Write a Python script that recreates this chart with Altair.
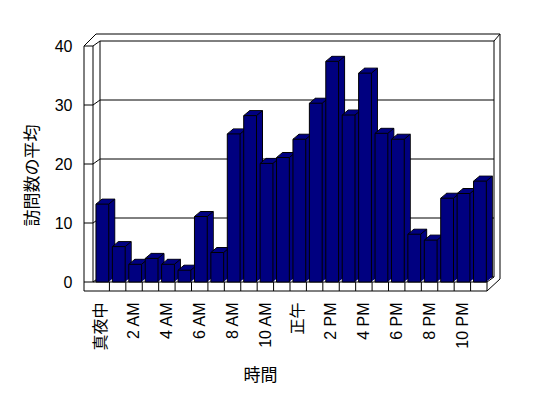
import json
import altair as alt
import pandas as pd

# ---- data ----
hours = list(range(24))
visits = [13.2, 6.0, 3.0, 4.0, 3.0, 2.0, 11.1, 5.0, 25.1, 28.2, 20.1, 21.1,
          24.2, 30.3, 37.4, 28.3, 35.4, 25.2, 24.2, 8.1, 7.1, 14.2, 15.0, 17.1]
tick_hours = [0, 2, 4, 6, 8, 10, 12, 14, 16, 18, 20, 22]
tick_labels = ["真夜中", "2 AM", "4 AM", "6 AM", "8 AM", "10 AM",
               "正午", "2 PM", "4 PM", "6 PM", "8 PM", "10 PM"]
y_ticks = [0, 10, 20, 30, 40]

# ---- geometry / style ----
NAVY = "#000080"
FONT = "Noto Sans CJK JP"
LFONT = "Liberation Sans, Noto Sans CJK JP"
W, H = 394, 236
NCAT, YMAX = 24, 40
ux = NCAT / W      # data units per pixel (x)
uy = YMAX / H      # data units per pixel (y)
BAR_L, BAR_R = 0.18, 0.96
BDX, BDY = 6, 5            # bar depth in px
DX, DY = 7 * ux, 5 * uy    # box depth
WALL = 9 * ux
FLOOR = 9 * uy
OUT_DX, OUT_DY = 13 * ux, 12 * uy
LBL_POS = 0.48

bars_df = pd.DataFrame({"hour": hours, "value": visits})
base = alt.Chart(bars_df)
xs = alt.Scale(domain=[0, NCAT], nice=False, zero=False)
ys = alt.Scale(domain=[0, YMAX], nice=False)

labels_js = json.dumps(tick_labels, ensure_ascii=False)
XAXIS = alt.Axis(
    values=[h + LBL_POS for h in tick_hours],
    labelExpr=f"{labels_js}[round((datum.value - {LBL_POS}) / 2)]",
    domain=False, ticks=False, grid=False,
    labelAngle=270, labelAlign="right", labelBaseline="middle",
    labelPadding=20, labelFont=LFONT, labelFontSize=16, labelColor="black",
    labelOverlap=False, labelLimit=0,
    title="時間", titleFont=FONT, titleFontSize=17, titleFontWeight="normal",
    titleColor="black", titleX=167, titleY=93, titleAlign="center",
    titleBaseline="middle",
)
YAXIS = alt.Axis(
    values=y_ticks, domain=False, ticks=False, grid=False,
    labelPadding=21, labelFont=LFONT, labelFontSize=16, labelColor="black",
    title="訪問数の平均", titleFont=FONT, titleFontSize=17,
    titleFontWeight="normal", titleColor="black", titleAngle=270,
    titleX=-61, titleY=129, titleAlign="center", titleBaseline="middle",
)

# ---- frame (walls, floor, gridlines) ----
segs = []
def seg(x, y, x2, y2):
    segs.append(dict(x=x, y=y, x2=x2, y2=y2))

seg(DX, DY, DX, YMAX + DY)
seg(DX, YMAX + DY, NCAT + DX, YMAX + DY)
seg(NCAT + DX, DY, NCAT + DX, YMAX + DY)
seg(DX, DY, NCAT + DX, DY)
for v in y_ticks[1:-1]:
    seg(DX, v + DY, NCAT + DX, v + DY)
for v in y_ticks:
    seg(0, v, DX, v + DY)
    seg(-WALL, v, 0, v)
seg(-WALL, -FLOOR, -WALL, YMAX)
seg(0, 0, 0, YMAX)
TOP = YMAX + OUT_DY
RIGHT = NCAT + OUT_DX
seg(-WALL, YMAX, -WALL + 12 * ux, TOP)
seg(-WALL + 12 * ux, TOP, RIGHT, TOP)
seg(NCAT + DX, YMAX + DY, RIGHT, TOP)
seg(RIGHT, TOP, RIGHT, 3 * uy)
seg(0, 0, NCAT, 0)
seg(-WALL, -FLOOR, NCAT, -FLOOR)
seg(NCAT, 0, NCAT, -FLOOR)
for h in range(1, NCAT):
    seg(h, 0, h, -FLOOR)
seg(NCAT, -FLOOR, RIGHT, 3 * uy)
seg(NCAT, 0, NCAT + DX, DY)
frame_df = pd.DataFrame(segs)

frame = alt.Chart(frame_df).mark_rule(color="black", strokeWidth=1).encode(
    x=alt.X("x:Q", scale=xs, axis=XAXIS),
    x2="x2:Q",
    y=alt.Y("y:Q", scale=ys, axis=YAXIS),
    y2="y2:Q",
)

def box(k, stroked):
    sx = k * ux
    sy = k * (BDY / BDX) * uy
    ch = base.transform_calculate(
        bx0=f"datum.hour + {BAR_L} + {sx}",
        bx1=f"datum.hour + {BAR_R} + {sx}",
        by0=f"{sy}",
        by1=f"datum.value + {sy}",
    )
    if stroked:
        m = ch.mark_bar(fill=NAVY, stroke="black", strokeWidth=1)
    else:
        m = ch.mark_bar(fill=NAVY, strokeWidth=0)
    return m.encode(
        x=alt.X("bx0:Q", scale=xs, axis=XAXIS),
        x2="bx1:Q",
        y=alt.Y("by1:Q", scale=ys, axis=YAXIS),
        y2="by0:Q",
    )

back_box = box(BDX, True)
fills = [box(k, False) for k in [0.5, 1, 1.5, 2, 2.5, 3, 3.5, 4, 4.5, 5, 5.5]]

def diag(pos):
    return base.transform_calculate(
        dx0=f"datum.hour + {pos}",
        dx1=f"datum.hour + {pos} + {BDX * ux}",
        dy1=f"datum.value + {BDY * uy}",
    ).mark_rule(color="black", strokeWidth=1).encode(
        x=alt.X("dx0:Q", scale=xs, axis=XAXIS),
        x2="dx1:Q",
        y=alt.Y("value:Q", scale=ys, axis=YAXIS),
        y2="dy1:Q",
    )

front = base.transform_calculate(
    fx0=f"datum.hour + {BAR_L}",
    fx1=f"datum.hour + {BAR_R}",
    zero="0",
).mark_bar(fill=NAVY, stroke="black", strokeWidth=1).encode(
    x=alt.X("fx0:Q", scale=xs, axis=XAXIS),
    x2="fx1:Q",
    y=alt.Y("value:Q", scale=ys, axis=YAXIS),
    y2="zero:Q",
)

chart = alt.layer(frame, back_box, *fills, diag(BAR_L), diag(BAR_R), front).properties(
    width=W, height=H,
    autosize=alt.AutoSizeParams(type="none"),
    padding={"left": 93, "top": 46, "right": 548 - 93 - W, "bottom": 398 - 46 - H},
    background="white",
).configure_view(stroke=None)

chart.save("out.html", embed_options={"renderer": "svg", "actions": False})
